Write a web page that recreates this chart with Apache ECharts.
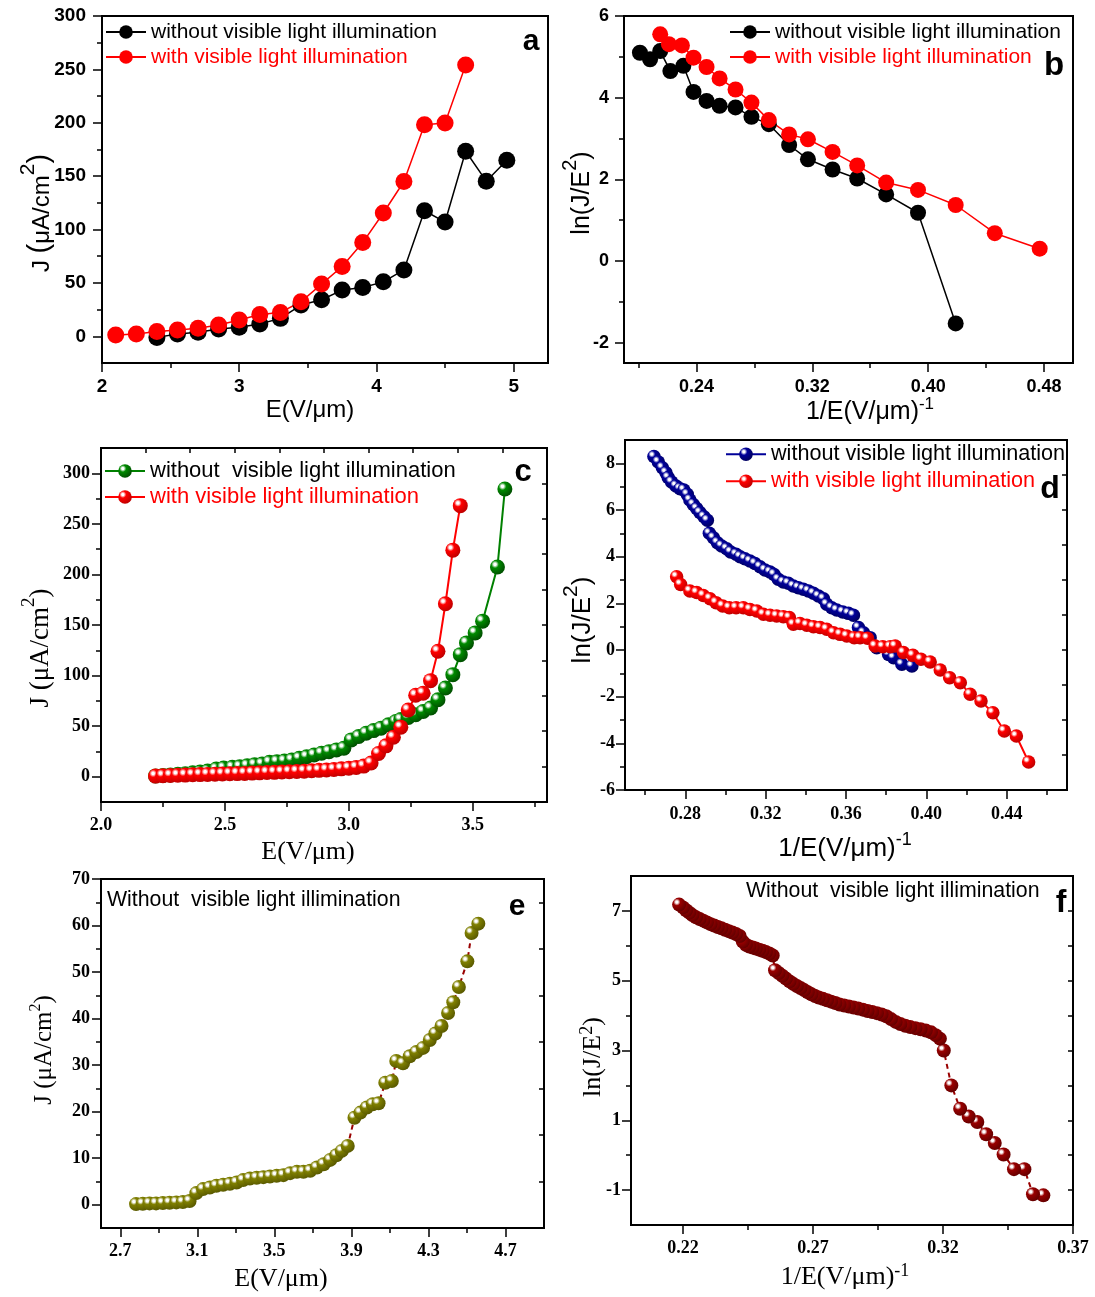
<!DOCTYPE html>
<html>
<head>
<meta charset="utf-8">
<title>Field emission J-E and F-N plots</title>
<script src="https://cdn.jsdelivr.net/npm/echarts@6.0.0/dist/echarts.min.js"></script>
<style>
  html, body { margin: 0; padding: 0; background: #fff; }
  #page { position: relative; width: 1095px; height: 1297px; }
  .panel { position: absolute; }
</style>
</head>
<body>
<div id="page">
  <div id="panel-a" class="panel" style="left:0;top:0;width:550px;height:433px"></div>
  <div id="panel-b" class="panel" style="left:550px;top:0;width:545px;height:433px"></div>
  <div id="panel-c" class="panel" style="left:0;top:433px;width:550px;height:433px"></div>
  <div id="panel-d" class="panel" style="left:550px;top:433px;width:545px;height:433px"></div>
  <div id="panel-e" class="panel" style="left:0;top:866px;width:550px;height:431px"></div>
  <div id="panel-f" class="panel" style="left:550px;top:866px;width:545px;height:431px"></div>
</div>
<script>
// ---- a : J-E curves ----
const aDarkE = [2.40, 2.55, 2.70, 2.85, 3.00, 3.15, 3.30, 3.45, 3.60, 3.75, 3.90, 4.05, 4.20, 4.35, 4.50, 4.65, 4.80, 4.95]
const aDarkJ = [-1, 2.2, 3.7, 6.8, 8.4, 11.5, 16.8, 29.3, 34.2, 43.3, 45.7, 51, 62.2, 117.6, 107, 173.3, 145.3, 164.9]
const aLightE = [2.10, 2.25, 2.40, 2.55, 2.70, 2.85, 3.00, 3.15, 3.30, 3.45, 3.60, 3.75, 3.90, 4.05, 4.20, 4.35, 4.50, 4.65]
const aLightJ = [1.2, 2.2, 4.4, 5.9, 7.5, 10.6, 15.2, 20.5, 22.4, 32.4, 48.9, 65.4, 87.8, 115.5, 145, 198.2, 199.8, 254]
const aXMajor = [2, 3, 4, 5]
const aXMinor = [2.5, 3.5, 4.5]
const aYMajor = [0, 50, 100, 150, 200, 250, 300]
const aYMinor = [25, 75, 125, 175, 225, 275]

// ---- b : F-N plots of a ----
const bDarkX = [0.201, 0.208, 0.215, 0.222, 0.231, 0.238, 0.247, 0.256, 0.267, 0.278, 0.290, 0.304, 0.317, 0.334, 0.351, 0.371, 0.393, 0.419]
const bDarkY = [5.10, 4.94, 5.14, 4.65, 4.78, 4.14, 3.92, 3.80, 3.76, 3.53, 3.35, 2.84, 2.49, 2.24, 2.02, 1.63, 1.18, -1.53]
const bLightX = [0.215, 0.221, 0.230, 0.238, 0.247, 0.256, 0.267, 0.278, 0.290, 0.304, 0.317, 0.334, 0.351, 0.371, 0.393, 0.419, 0.446, 0.477]
const bLightY = [5.55, 5.31, 5.28, 4.98, 4.75, 4.47, 4.20, 3.88, 3.45, 3.10, 2.98, 2.67, 2.34, 1.92, 1.74, 1.37, 0.68, 0.30]
const bXMajor = [0.24, 0.32, 0.40, 0.48]
const bXMinor = [0.20, 0.28, 0.36, 0.44]
const bYMajor = [-2, 0, 2, 4, 6]
const bYMinor = [-1, 1, 3, 5]

// ---- c : J-E curves, second sample ----
const cDarkE = [2.22, 2.25, 2.28, 2.31, 2.34, 2.37, 2.40, 2.43, 2.465, 2.495, 2.53, 2.56, 2.59, 2.62, 2.65, 2.68, 2.71, 2.74,
  2.77, 2.80, 2.83, 2.86, 2.89, 2.92, 2.95, 2.98, 3.01, 3.04, 3.07, 3.10, 3.13, 3.16, 3.19, 3.21, 3.24, 3.27,
  3.30, 3.33, 3.36, 3.39, 3.42, 3.45, 3.475, 3.51, 3.54, 3.60, 3.63]
const cDarkJ = [0.8, 1.3, 1.8, 2.4, 3.0, 3.8, 4.6, 5.6, 7.6, 8.6, 9.3, 9.9, 10.9, 11.9, 12.6, 14.3, 14.9, 15.6,
  16.6, 18.2, 19.8, 21.5, 23.2, 24.8, 26.5, 28.2, 36.4, 39.7, 43.0, 45.6, 48.0, 51.3, 54.6, 56.5, 58.5, 61.2,
  64.5, 67.9, 76.1, 87.7, 100.9, 120.7, 132.3, 142.2, 153.8, 207.3, 284.4]
const cLightE = [2.22, 2.25, 2.28, 2.31, 2.34, 2.37, 2.40, 2.43, 2.46, 2.49, 2.52, 2.55, 2.58, 2.61, 2.64, 2.67, 2.70, 2.73,
  2.76, 2.79, 2.82, 2.85, 2.88, 2.91, 2.94, 2.97, 3.00, 3.03, 3.06, 3.09, 3.12, 3.15, 3.18, 3.21, 3.24, 3.27,
  3.30, 3.33, 3.36, 3.39, 3.42, 3.45]
const cLightJ = [0.6, 0.9, 1.2, 1.4, 1.6, 1.9, 2.1, 2.3, 2.5, 2.7, 2.9, 3.1, 3.3, 3.6, 3.8, 4.1, 4.3, 4.6,
  4.9, 5.2, 5.5, 5.9, 6.3, 6.7, 7.2, 7.8, 8.4, 9.2, 10.5, 13.5, 23, 30.5, 39, 49, 66, 80.5,
  82.5, 95, 124, 171, 224, 268]
const cXMajor = [2.0, 2.5, 3.0, 3.5]
const cXMinor = [2.25, 2.75, 3.25, 3.75]
const cYMajor = [0, 50, 100, 150, 200, 250, 300]
const cYMinor = [25, 75, 125, 175, 225, 275]
const cTopTicks = [2.18, 2.36, 2.54, 2.72, 2.90, 3.08, 3.26, 3.44, 3.62]
const cRightTicks = [10, 45, 80, 115, 150, 185, 220, 255, 290]

// ---- d : F-N plots of c ----
const dDarkX = [0.2644, 0.2666, 0.2686, 0.2704, 0.2715, 0.2732, 0.2754, 0.2774, 0.2793, 0.2810, 0.2823, 0.2840, 0.2857, 0.2873,
  0.2893, 0.2910, 0.2920, 0.2940, 0.2960, 0.2981, 0.3006, 0.3026, 0.3053, 0.3073, 0.3097, 0.3122, 0.3147, 0.3172,
  0.3197, 0.3222, 0.3242, 0.3263, 0.3288, 0.3313, 0.3338, 0.3363, 0.3388, 0.3413, 0.3438, 0.3463, 0.3488, 0.3504,
  0.3529, 0.3554, 0.3584, 0.3612, 0.3637, 0.3662, 0.3687, 0.3720, 0.3753, 0.3812, 0.3837, 0.3878, 0.3928]
const dDarkY = [8.29, 8.06, 7.81, 7.60, 7.39, 7.20, 7.03, 6.91, 6.86, 6.67, 6.43, 6.24, 6.06, 5.89,
  5.71, 5.56, 5.00, 4.81, 4.60, 4.46, 4.34, 4.20, 4.10, 4.00, 3.91, 3.81, 3.71, 3.57,
  3.43, 3.34, 3.24, 3.03, 2.91, 2.86, 2.74, 2.67, 2.60, 2.53, 2.43, 2.31, 2.20, 1.96,
  1.81, 1.71, 1.63, 1.57, 1.49, 0.96, 0.74, 0.53, 0.10, -0.19, -0.33, -0.61, -0.69]
const dLightX = [0.2757, 0.2777, 0.2823, 0.2857, 0.2890, 0.2923, 0.2953, 0.2986, 0.3019, 0.3053, 0.3089, 0.3122, 0.3156, 0.3189,
  0.3222, 0.3255, 0.3288, 0.3318, 0.3338, 0.3371, 0.3405, 0.3438, 0.3471, 0.3504, 0.3538, 0.3571, 0.3604, 0.3641,
  0.3670, 0.3707, 0.3745, 0.3783, 0.3820, 0.3845, 0.3886, 0.3933, 0.3973, 0.4019, 0.4069, 0.4116, 0.4169, 0.4218,
  0.4272, 0.4331, 0.4388, 0.4448, 0.4509]
const dLightY = [3.14, 2.81, 2.53, 2.46, 2.34, 2.20, 2.03, 1.89, 1.81, 1.81, 1.81, 1.74, 1.67, 1.53,
  1.49, 1.46, 1.43, 1.39, 1.10, 1.14, 1.06, 1.00, 0.96, 0.89, 0.74, 0.67, 0.60, 0.53,
  0.53, 0.50, 0.17, 0.14, 0.14, 0.17, -0.11, -0.23, -0.40, -0.51, -0.86, -1.19, -1.40, -1.90,
  -2.19, -2.69, -3.47, -3.69, -4.80]
const dXMajor = [0.28, 0.32, 0.36, 0.40, 0.44]
const dXMinor = [0.26, 0.30, 0.34, 0.38, 0.42, 0.46]
const dYMajor = [-6, -4, -2, 0, 2, 4, 6, 8]
const dYMinor = [-5, -3, -1, 1, 3, 5, 7]
const dRightTicks = [-4.5, -3, -1.5, 0, 1.5, 3, 4.5, 6, 7.5]

// ---- e : J-E without illumination ----
const eE = [2.782, 2.817, 2.852, 2.886, 2.921, 2.956, 2.991, 3.025, 3.060, 3.095, 3.130, 3.165, 3.199, 3.234,
  3.269, 3.304, 3.338, 3.373, 3.408, 3.443, 3.477, 3.512, 3.547, 3.582, 3.617, 3.651, 3.686, 3.721,
  3.756, 3.790, 3.822, 3.850, 3.881, 3.916, 3.947, 3.980, 4.011, 4.041, 4.076, 4.110, 4.133, 4.168,
  4.203, 4.237, 4.272, 4.307, 4.336, 4.368, 4.402, 4.429, 4.458, 4.502, 4.524, 4.559]
const eJ = [0.14, 0.21, 0.29, 0.29, 0.36, 0.43, 0.50, 0.57, 0.79, 2.5, 3.36, 3.71, 4.07, 4.29,
  4.5, 4.79, 5.29, 5.64, 5.79, 5.93, 6.07, 6.21, 6.36, 6.79, 7.07, 7.07, 7.29, 8.0,
  8.71, 9.64, 10.64, 11.57, 12.64, 18.7, 19.8, 20.9, 21.6, 21.8, 26.2, 26.6, 30.9, 30.4,
  31.9, 32.8, 33.7, 35.4, 36.8, 38.4, 41.2, 43.5, 46.8, 52.3, 58.4, 60.4]
const eXMajor = [2.7, 3.1, 3.5, 3.9, 4.3, 4.7]
const eXMinor = [2.9, 3.3, 3.7, 4.1, 4.5]
const eYMajor = [0, 10, 20, 30, 40, 50, 60, 70]
const eYMinor = [5, 15, 25, 35, 45, 55, 65]
const eRightTicks = [5, 15, 25, 35, 45, 55, 65]

// ---- f : F-N plot of e (stored from low field side first) ----
const fX = [0.3586, 0.3546, 0.3513, 0.3473, 0.3433, 0.3399, 0.3366, 0.3332, 0.3299, 0.3266, 0.3232, 0.3203,
  0.3188, 0.3172, 0.3154, 0.3134, 0.3114, 0.3094, 0.3074, 0.3055, 0.3036, 0.3018, 0.3000,
  0.2982, 0.2964, 0.2946, 0.2928, 0.2910, 0.2892, 0.2874, 0.2856, 0.2838, 0.2820, 0.2802,
  0.2786, 0.2770, 0.2754, 0.2738, 0.2722, 0.2708, 0.2694, 0.2680, 0.2666, 0.2652,
  0.2638, 0.2624, 0.2610, 0.2596, 0.2582, 0.2568, 0.2554,
  0.2545, 0.2532, 0.2519, 0.2506, 0.2493, 0.2480, 0.2468, 0.2455, 0.2442, 0.2430,
  0.2418, 0.2404, 0.2390, 0.2376, 0.2362, 0.2348, 0.2334, 0.2320, 0.2306, 0.2292,
  0.2278, 0.2264, 0.2250, 0.2236, 0.2224, 0.2212, 0.2200, 0.2185]
const fY = [-1.15, -1.12, -0.40, -0.40, 0.02, 0.35, 0.60, 0.95, 1.11, 1.33, 2.00, 3.00,
  3.34, 3.44, 3.52, 3.57, 3.61, 3.64, 3.67, 3.71, 3.76, 3.82, 3.90,
  3.98, 4.03, 4.07, 4.10, 4.13, 4.17, 4.20, 4.23, 4.26, 4.29, 4.32,
  4.36, 4.40, 4.44, 4.48, 4.52, 4.56, 4.61, 4.67, 4.73, 4.79,
  4.85, 4.91, 4.98, 5.06, 5.14, 5.22, 5.30,
  5.72, 5.78, 5.82, 5.86, 5.89, 5.92, 5.95, 5.98, 6.03, 6.12,
  6.28, 6.34, 6.38, 6.42, 6.46, 6.50, 6.54, 6.58, 6.62, 6.67,
  6.72, 6.77, 6.82, 6.88, 6.95, 7.02, 7.10, 7.18]
const fXMajor = [0.22, 0.27, 0.32, 0.37]
const fXMinor = [0.245, 0.295, 0.345]
const fYMajor = [-1, 1, 3, 5, 7]
const fYMinor = [0, 2, 4, 6]
const fRightTicks = [-1, 0, 1, 2, 3, 4, 5, 6, 7]

const SANS = "'Liberation Sans', Arial, sans-serif"
const SERIF = "'Liberation Serif', 'Times New Roman', serif"
const RED = '#ff0000'
const DARK_LINE = '#990000'

// shiny ball look of the Origin symbols
function ball (base, dark) {
  return {
    type: 'radial',
    x: 0.34,
    y: 0.32,
    r: 0.7,
    colorStops: [
      { offset: 0, color: '#ffffff' },
      { offset: 0.12, color: '#ffffff' },
      { offset: 0.36, color: base },
      { offset: 1, color: dark }
    ]
  }
}

function pairs (xs, ys) {
  return xs.map((x, i) => [x, ys[i]])
}

// axis titles with a raised superscript, t.x / t.y = centre of the main glyphs
function titleText (t, ox, oy) {
  const size = t.size
  const sup = t.sup || size
  const raise = t.raise || 0
  const H = Math.max(size, t.paren || 0, t.sup ? sup + raise : 0)
  const off = H / 2 - size / 2
  return {
    type: 'text',
    silent: true,
    x: t.x - ox - (t.rot ? off : 0),
    y: t.y - oy - (t.rot ? 0 : off),
    rotation: t.rot ? Math.PI / 2 : 0,
    style: {
      text: t.text,
      align: 'center',
      verticalAlign: 'middle',
      fontFamily: t.family,
      fontSize: size,
      fill: '#000',
      rich: {
        m: { fontFamily: t.family, fontSize: size, fill: '#000', verticalAlign: 'bottom' },
        p: { fontFamily: t.family, fontSize: t.paren || size, fill: '#000', verticalAlign: 'bottom' },
        s: { fontFamily: t.family, fontSize: sup, fill: '#000', verticalAlign: 'bottom', padding: [0, 0, raise, 0] }
      }
    }
  }
}

function plainText (t, ox, oy) {
  return {
    type: 'text',
    silent: true,
    x: t.x - ox,
    y: t.y - oy,
    style: {
      text: t.text,
      align: t.align || 'center',
      verticalAlign: 'middle',
      fontFamily: SANS,
      fontSize: t.size,
      fontWeight: t.bold ? 'bold' : 'normal',
      fill: '#000'
    }
  }
}

function makePanel (p) {
  const ox = p.origin[0]
  const oy = p.origin[1]
  const [L, T, R, B] = p.box
  const rect = { left: L - ox, top: T - oy, width: R - L, height: B - T, outerBoundsMode: 'none' }
  const tick = { color: '#000', width: 1.5 }
  const base = (ax, grid, pos) => ({
    type: 'value',
    gridIndex: grid,
    position: pos,
    min: ax.min,
    max: ax.max,
    splitLine: { show: false },
    axisLabel: { show: false },
    axisLine: { show: false, onZero: false }
  })
  const main = (ax, pos) => Object.assign(base(ax, 0, pos), {
    axisLine: { show: true, onZero: false, lineStyle: { color: '#000', width: 2 } },
    axisTick: { show: true, length: 9, customValues: ax.major, lineStyle: tick },
    axisLabel: {
      show: true,
      customValues: ax.major,
      margin: ax.margin,
      color: '#000',
      fontFamily: p.tickFont,
      fontSize: p.tickSize,
      fontWeight: 'bold',
      formatter: v => Number(v).toFixed(ax.digits)
    }
  })
  const minor = (ax, pos) => Object.assign(base(ax, 1, pos), {
    axisTick: { show: true, length: 5, customValues: ax.minor, lineStyle: tick }
  })
  const inner = (ax, pos, vals) => Object.assign(base(ax, 0, pos), {
    axisTick: { show: true, inside: true, length: 5, customValues: vals, lineStyle: tick }
  })

  const xAxis = [main(p.x, 'bottom'), minor(p.x, 'bottom')]
  const yAxis = [main(p.y, 'left'), minor(p.y, 'left')]
  if (p.topTicks) xAxis.push(inner(p.x, 'top', p.topTicks))
  if (p.rightTicks) yAxis.push(inner(p.y, 'right', p.rightTicks))

  const series = p.series.map(s => ({
    type: 'line',
    name: s.name,
    xAxisIndex: 0,
    yAxisIndex: 0,
    data: pairs(s.x, s.y),
    symbol: 'circle',
    symbolSize: s.size,
    showSymbol: true,
    showAllSymbol: true,
    clip: false,
    animation: false,
    itemStyle: { color: s.fill, borderWidth: 0 },
    lineStyle: { color: s.line, width: s.width, type: s.dash || 'solid' },
    emphasis: { disabled: true }
  }))

  const legend = p.legend
    ? p.legend.rows.map(r => ({
      left: p.legend.left - ox,
      top: r.y - oy - p.legend.size / 2,
      padding: 0,
      orient: 'horizontal',
      itemWidth: 40,
      itemHeight: 17,
      selectedMode: false,
      textStyle: { fontFamily: SANS, fontSize: p.legend.size, color: r.color },
      data: [{ name: r.name, textStyle: { color: r.color } }]
    }))
    : []

  const graphic = p.titles.map(t => titleText(t, ox, oy))
    .concat((p.texts || []).map(t => plainText(t, ox, oy)))

  const chart = echarts.init(document.getElementById(p.el), null, { renderer: 'canvas' })
  chart.setOption({
    animation: false,
    backgroundColor: '#fff',
    grid: [
      Object.assign({ show: true, borderColor: '#000', borderWidth: 2, backgroundColor: 'transparent' }, rect),
      Object.assign({ show: false }, rect)
    ],
    xAxis,
    yAxis,
    legend,
    series,
    graphic
  })
}

const WITHOUT = 'without visible light illumination'
const WITH = 'with visible light illumination'

makePanel({
  el: 'panel-a',
  origin: [0, 0],
  box: [102, 16, 548, 363],
  tickFont: SANS,
  tickSize: 19,
  x: { min: 2, max: 5.25, major: aXMajor, minor: aXMinor, digits: 0, margin: 14 },
  y: { min: -25, max: 300, major: aYMajor, minor: aYMinor, digits: 0, margin: 16 },
  series: [
    { name: WITHOUT, x: aDarkE, y: aDarkJ, fill: '#000', line: '#000', width: 1.5, size: 17 },
    { name: WITH, x: aLightE, y: aLightJ, fill: RED, line: RED, width: 1.5, size: 17 }
  ],
  legend: { left: 105, size: 21, rows: [{ y: 32, name: WITHOUT, color: '#000' }, { y: 57, name: WITH, color: RED }] },
  titles: [
    { text: '{m|J }{p|(}{m|μA/cm}{s|2}{p|)}', family: SANS, size: 24, paren: 29, sup: 21, raise: 15, x: 42, y: 213, rot: true },
    { text: '{m|E(V/μm)}', family: SANS, size: 24, x: 310, y: 410 }
  ],
  texts: [{ text: 'a', x: 531, y: 42, size: 30, bold: true }]
})

makePanel({
  el: 'panel-b',
  origin: [550, 0],
  box: [624, 16, 1073, 363],
  tickFont: SANS,
  tickSize: 18,
  x: { min: 0.19, max: 0.50, major: bXMajor, minor: bXMinor, digits: 2, margin: 15 },
  y: { min: -2.5, max: 6, major: bYMajor, minor: bYMinor, digits: 0, margin: 15 },
  series: [
    { name: WITHOUT, x: bDarkX, y: bDarkY, fill: '#000', line: '#000', width: 1.5, size: 16 },
    { name: WITH, x: bLightX, y: bLightY, fill: RED, line: RED, width: 1.5, size: 16 }
  ],
  legend: { left: 729, size: 21, rows: [{ y: 32, name: WITHOUT, color: '#000' }, { y: 57, name: WITH, color: RED }] },
  titles: [
    { text: '{m|ln(J/E}{s|2}{m|)}', family: SANS, size: 25, sup: 20, raise: 14, x: 582, y: 193, rot: true },
    { text: '{m|1/E(V/μm)}{s|-1}', family: SANS, size: 25, sup: 17, raise: 12, x: 870, y: 412 }
  ],
  texts: [{ text: 'b', x: 1054, y: 66, size: 33, bold: true }]
})

makePanel({
  el: 'panel-c',
  origin: [0, 433],
  box: [101, 448, 547, 802],
  tickFont: SERIF,
  tickSize: 18,
  x: { min: 2.0, max: 3.8, major: cXMajor, minor: cXMinor, digits: 1, margin: 14 },
  y: { min: -25, max: 325, major: cYMajor, minor: cYMinor, digits: 0, margin: 11 },
  topTicks: cTopTicks,
  rightTicks: cRightTicks,
  series: [
    { name: 'without  visible light illumination', x: cDarkE, y: cDarkJ, fill: ball('#008a00', '#005000'), line: '#008000', width: 2, size: 15 },
    { name: WITH, x: cLightE, y: cLightJ, fill: ball('#ff0000', '#c00000'), line: RED, width: 2, size: 15 }
  ],
  legend: {
    left: 104,
    size: 22,
    rows: [{ y: 471, name: 'without  visible light illumination', color: '#000' }, { y: 497, name: WITH, color: RED }]
  },
  titles: [
    { text: '{m|J (μA/cm}{s|2}{m|)}', family: SERIF, size: 27, sup: 19, raise: 16, x: 41, y: 648, rot: true },
    { text: '{m|E(V/μm)}', family: SERIF, size: 26, x: 308, y: 852 }
  ],
  texts: [{ text: 'c', x: 523, y: 472, size: 31, bold: true }]
})

makePanel({
  el: 'panel-d',
  origin: [550, 433],
  box: [625, 440, 1067, 790],
  tickFont: SERIF,
  tickSize: 18,
  x: { min: 0.25, max: 0.47, major: dXMajor, minor: dXMinor, digits: 2, margin: 15 },
  y: { min: -6, max: 9, major: dYMajor, minor: dYMinor, digits: 0, margin: 10 },
  rightTicks: dRightTicks,
  series: [
    { name: WITHOUT, x: dDarkX, y: dDarkY, fill: ball('#000099', '#000060'), line: '#000099', width: 2, size: 13.5 },
    { name: WITH, x: dLightX, y: dLightY, fill: ball('#ff0000', '#c00000'), line: RED, width: 2, size: 13.5 }
  ],
  legend: { left: 725, size: 21.6, rows: [{ y: 454, name: WITHOUT, color: '#000' }, { y: 481, name: WITH, color: RED }] },
  titles: [
    { text: '{m|ln(J/E}{s|2}{m|)}', family: SANS, size: 26, sup: 21, raise: 14, x: 583, y: 620, rot: true },
    { text: '{m|1/E(V/μm)}{s|-1}', family: SANS, size: 26, sup: 18, raise: 13, x: 845, y: 849 }
  ],
  texts: [{ text: 'd', x: 1050, y: 489, size: 32, bold: true }]
})

makePanel({
  el: 'panel-e',
  origin: [0, 866],
  box: [101, 879, 544, 1228],
  tickFont: SERIF,
  tickSize: 18,
  x: { min: 2.6, max: 4.9, major: eXMajor, minor: eXMinor, digits: 1, margin: 14 },
  y: { min: -5, max: 70, major: eYMajor, minor: eYMinor, digits: 0, margin: 11 },
  rightTicks: eRightTicks,
  series: [
    { name: 'e', x: eE, y: eJ, fill: ball('#808000', '#5a5a00'), line: DARK_LINE, width: 2, size: 14, dash: [5, 4] }
  ],
  titles: [
    { text: '{m|J (μA/cm}{s|2}{m|)}', family: SERIF, size: 25, sup: 16, raise: 13, x: 44, y: 1050, rot: true },
    { text: '{m|E(V/μm)}', family: SERIF, size: 26, x: 281, y: 1279 }
  ],
  texts: [
    { text: 'Without  visible light illimination', x: 107, y: 900, size: 21.3, align: 'left' },
    { text: 'e', x: 517, y: 907, size: 30, bold: true }
  ]
})

makePanel({
  el: 'panel-f',
  origin: [550, 866],
  box: [631, 876, 1073, 1225],
  tickFont: SERIF,
  tickSize: 18,
  x: { min: 0.20, max: 0.37, major: fXMajor, minor: fXMinor, digits: 2, margin: 14 },
  y: { min: -2, max: 8, major: fYMajor, minor: fYMinor, digits: 0, margin: 10 },
  rightTicks: fRightTicks,
  series: [
    { name: 'f', x: fX, y: fY, fill: ball('#990000', '#650000'), line: DARK_LINE, width: 2, size: 14, dash: [5, 4] }
  ],
  titles: [
    { text: '{m|ln(J/E}{s|2}{m|)}', family: SERIF, size: 26, sup: 18, raise: 10, x: 593, y: 1057, rot: true },
    { text: '{m|1/E(V/μm)}{s|-1}', family: SERIF, size: 26, sup: 18, raise: 10, x: 845, y: 1277 }
  ],
  texts: [
    { text: 'Without  visible light illimination', x: 746, y: 891, size: 21.3, align: 'left' },
    { text: 'f', x: 1061, y: 903, size: 32, bold: true }
  ]
})
</script>
</body>
</html>
